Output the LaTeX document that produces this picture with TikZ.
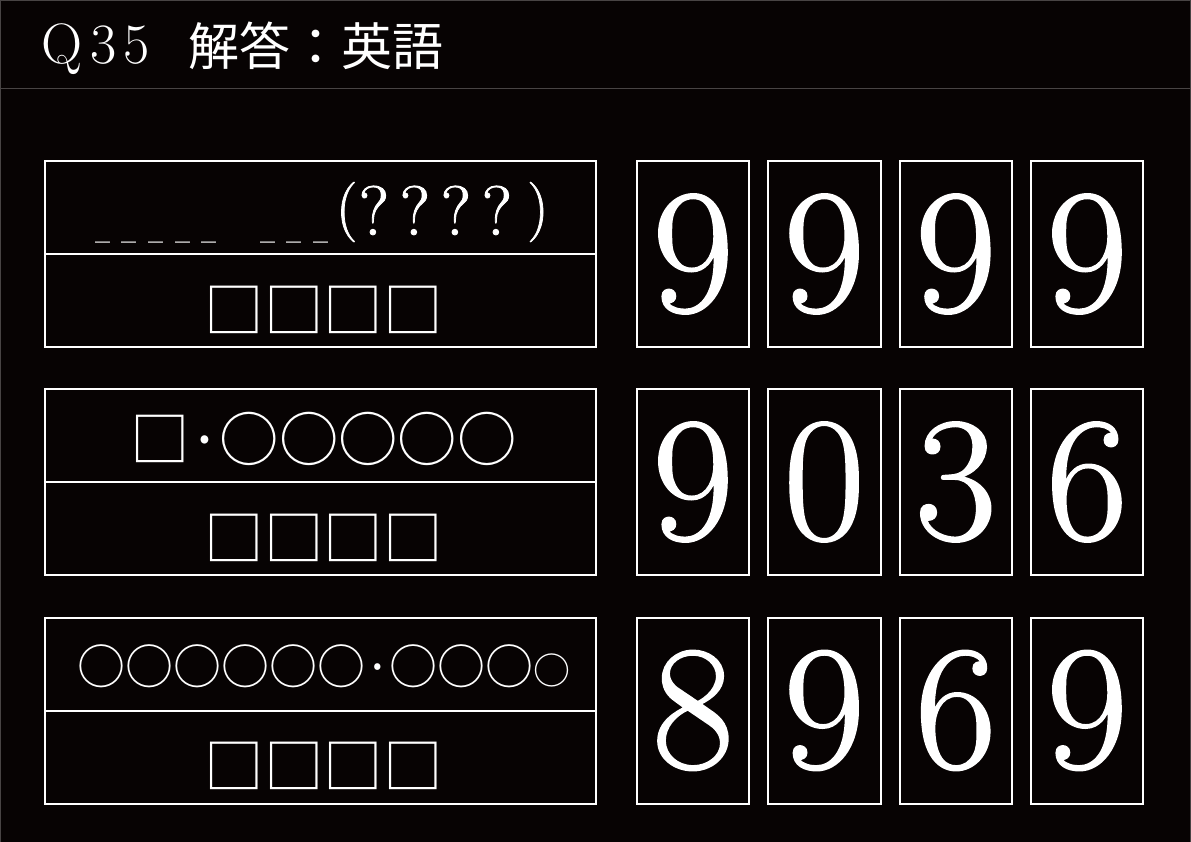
\documentclass[tikz,border=0pt]{standalone}
\usepackage{fontspec}
\newfontfamily\cjk{Noto Sans CJK JP}
\newfontfamily\lmbold[FakeBold=1.2]{Latin Modern Roman}
\definecolor{bg}{RGB}{7,3,3}
\definecolor{rulegray}{RGB}{72,68,68}
\newcommand\ud{\makebox[26.6pt][l]{\scalebox{0.6}[1.8]{\fontsize{36}{36}\selectfont\_}}}
\newcommand\qm{\makebox[41pt]{?}}
\newcommand\hdot{\makebox[0.5em]{·}}
\newcommand\lpar{\makebox[13.4pt]{\raisebox{8pt}{\fontsize{60}{60}\selectfont(}}}
\newcommand\rpar{\makebox[41pt]{\raisebox{8pt}{\fontsize{60}{60}\selectfont)}}}
\begin{document}
\begin{tikzpicture}[x=1pt,y=-1pt,
  cell/.style={draw=white,line width=2pt,rectangle,minimum width=551pt,minimum height=93pt,inner sep=0pt,outer sep=0pt},
  digitbox/.style={draw=white,line width=2pt,rectangle,minimum width=112.6pt,minimum height=186pt,inner sep=0pt,outer sep=0pt,text=white,font=\lmbold\fontsize{177}{177}\selectfont},
  ph/.style={text=white,font=\cjk\fontsize{59.5}{60}\selectfont,inner sep=0pt,anchor=base},
  phsmall/.style={text=white,font=\cjk\fontsize{48}{48}\selectfont,inner sep=0pt,anchor=base},
  lmtext/.style={text=white,font=\fontsize{60}{60}\selectfont,inner sep=0pt,anchor=base west},
  titletext/.style={text=white,inner sep=0pt,anchor=base west},
  sep/.style={draw=rulegray,line width=1.2pt}
]
\useasboundingbox (0,0) rectangle (1191,842);
\fill[bg] (0,0) rectangle (1191,842);
% frame lines
\coordinate (tl) at (0,0.6);
\coordinate (tr) at (1191,0.6);
\coordinate (bl) at (0.6,842);
\coordinate (br) at (1190.4,842);
\coordinate (hl) at (0,88.3);
\coordinate (hr) at (1191,88.3);
\draw[sep] (tl) -- (tr);
\draw[sep] (0.6,0) -- (bl);
\draw[sep] (1190.4,0) -- (br);
\draw[sep] (hl) -- (hr);
% title
\node[titletext,font=\fontsize{57}{57}\selectfont] (qnum) at (41,64) {Q\kern8pt 3\kern7pt 5};
\node[titletext,font=\cjk\fontsize{51}{51}\selectfont] (qtitle) at (188,66) {解答：英語};
% left cells
\node[cell] (r1t) at (320.5,207.5) {};
\node[cell] (r1b) at (320.5,300.5) {};
\node[cell] (r2t) at (320.5,435.5) {};
\node[cell] (r2b) at (320.5,528.5) {};
\node[cell] (r3t) at (320.5,664.5) {};
\node[cell] (r3b) at (320.5,757) {};
% cell texts
\node[lmtext] (t1) at (95,235) {\ud\ud\ud\ud\ud\hspace{32pt}\ud\ud\ud{\lmbold\lpar{\fontsize{70}{70}\selectfont\qm\qm\qm\qm}\rpar}};
\node[ph] (a1) at (323.5,332) {□□□□};
\node[ph,font=\cjk\fontsize{59.4}{60}\selectfont] (t2) at (323.7,461.8) {□\hdot○○○○○};
\node[ph] (a2) at (323.5,560.3) {□□□□};
\node[phsmall] (t3) at (324,684.5) {○○○○○○\hdot○○○{\fontsize{37}{37}\selectfont○}};
\node[ph] (a3) at (323.5,788.8) {□□□□};
% digit boxes
\node[digitbox] (d11) at (693,254) {9};
\node[digitbox] (d12) at (824.2,254) {9};
\node[digitbox] (d13) at (955.8,254) {9};
\node[digitbox] (d14) at (1087,254) {9};
\node[digitbox] (d21) at (693,482) {9};
\node[digitbox] (d22) at (824.2,482) {0};
\node[digitbox] (d23) at (955.8,482) {3};
\node[digitbox] (d24) at (1087,482) {6};
\node[digitbox] (d31) at (693,710.5) {8};
\node[digitbox] (d32) at (824.2,710.5) {9};
\node[digitbox] (d33) at (955.8,710.5) {6};
\node[digitbox] (d34) at (1087,710.5) {9};
\end{tikzpicture}
\end{document}
